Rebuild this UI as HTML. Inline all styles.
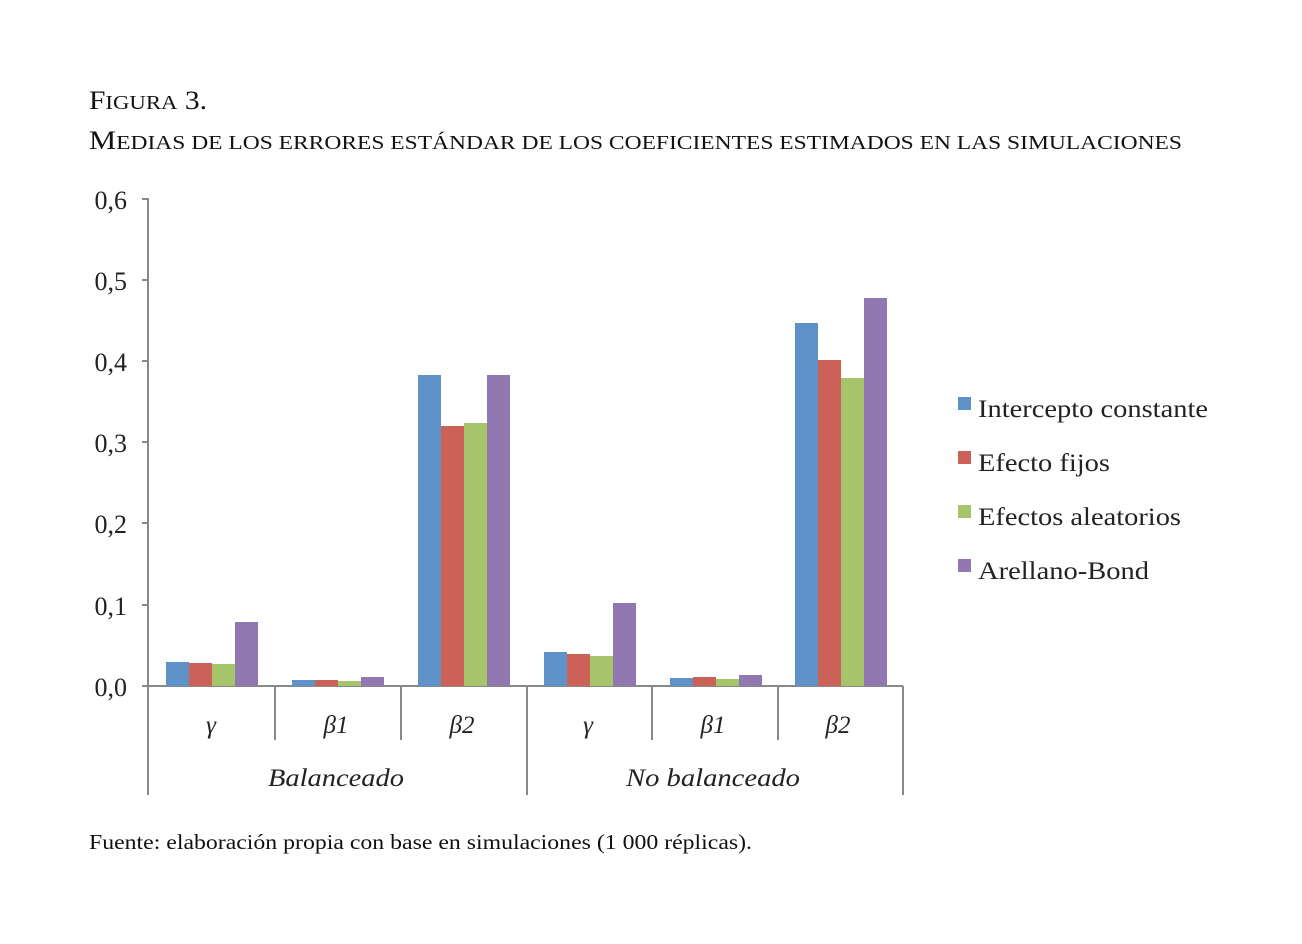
<!DOCTYPE html>
<html><head><meta charset="utf-8"><style>
body{margin:0;background:#fff;}
svg{display:block;}
</style></head><body>
<svg width="1302" height="944" xmlns="http://www.w3.org/2000/svg" font-family="'Liberation Serif', serif">
<rect width="1302" height="944" fill="#fff"/>
<text x="89" y="109" font-size="26" fill="#111" textLength="118" lengthAdjust="spacingAndGlyphs">F<tspan font-size="20">IGURA</tspan> 3.</text>
<text x="89" y="149" font-size="26" fill="#111" textLength="1093" lengthAdjust="spacingAndGlyphs">M<tspan font-size="20">EDIAS DE LOS ERRORES ESTÁNDAR DE LOS COEFICIENTES ESTIMADOS EN LAS SIMULACIONES</tspan></text>
<g font-size="26" fill="#222" text-anchor="end">
<text x="127" y="209">0,6</text>
<text x="127" y="290">0,5</text>
<text x="127" y="371">0,4</text>
<text x="127" y="452">0,3</text>
<text x="127" y="533">0,2</text>
<text x="127" y="615">0,1</text>
<text x="127" y="696">0,0</text>
</g>
<g stroke="#888" stroke-width="2" fill="none">
<line x1="148" y1="198" x2="148" y2="795"/>
<line x1="142" y1="199" x2="148" y2="199"/>
<line x1="142" y1="280" x2="148" y2="280"/>
<line x1="142" y1="361" x2="148" y2="361"/>
<line x1="142" y1="442" x2="148" y2="442"/>
<line x1="142" y1="523" x2="148" y2="523"/>
<line x1="142" y1="605" x2="148" y2="605"/>
<line x1="142" y1="686" x2="903" y2="686"/>
<line x1="275" y1="686" x2="275" y2="740"/>
<line x1="401" y1="686" x2="401" y2="740"/>
<line x1="527" y1="686" x2="527" y2="795"/>
<line x1="652" y1="686" x2="652" y2="740"/>
<line x1="778" y1="686" x2="778" y2="740"/>
<line x1="903" y1="686" x2="903" y2="795"/>
</g>
<g>
<rect x="166" y="662" width="23" height="24" fill="#5f92c9"/>
<rect x="189" y="663" width="23" height="23" fill="#cc6158"/>
<rect x="212" y="664" width="23" height="22" fill="#a6c46a"/>
<rect x="235" y="622" width="23" height="64" fill="#9178b0"/>
<rect x="292" y="680" width="23" height="6" fill="#5f92c9"/>
<rect x="315" y="680" width="23" height="6" fill="#cc6158"/>
<rect x="338" y="681" width="23" height="5" fill="#a6c46a"/>
<rect x="361" y="677" width="23" height="9" fill="#9178b0"/>
<rect x="418" y="375" width="23" height="311" fill="#5f92c9"/>
<rect x="441" y="426" width="23" height="260" fill="#cc6158"/>
<rect x="464" y="423" width="23" height="263" fill="#a6c46a"/>
<rect x="487" y="375" width="23" height="311" fill="#9178b0"/>
<rect x="544" y="652" width="23" height="34" fill="#5f92c9"/>
<rect x="567" y="654" width="23" height="32" fill="#cc6158"/>
<rect x="590" y="656" width="23" height="30" fill="#a6c46a"/>
<rect x="613" y="603" width="23" height="83" fill="#9178b0"/>
<rect x="670" y="678" width="23" height="8" fill="#5f92c9"/>
<rect x="693" y="677" width="23" height="9" fill="#cc6158"/>
<rect x="716" y="679" width="23" height="7" fill="#a6c46a"/>
<rect x="739" y="675" width="23" height="11" fill="#9178b0"/>
<rect x="795" y="323" width="23" height="363" fill="#5f92c9"/>
<rect x="818" y="360" width="23" height="326" fill="#cc6158"/>
<rect x="841" y="378" width="23" height="308" fill="#a6c46a"/>
<rect x="864" y="298" width="23" height="388" fill="#9178b0"/>
</g>
<g font-size="25" font-style="italic" fill="#222" text-anchor="middle">
<text x="211" y="733">γ</text>
<text x="336" y="733">β1</text>
<text x="462" y="733">β2</text>
<text x="588" y="733">γ</text>
<text x="713" y="733">β1</text>
<text x="838" y="733">β2</text>
<text x="336" y="786" textLength="136" lengthAdjust="spacingAndGlyphs">Balanceado</text>
<text x="713" y="786" textLength="174" lengthAdjust="spacingAndGlyphs">No balanceado</text>
</g>
<rect x="958" y="397" width="13" height="13" fill="#5f92c9"/>
<rect x="958" y="451" width="13" height="13" fill="#cc6158"/>
<rect x="958" y="505" width="13" height="13" fill="#a6c46a"/>
<rect x="958" y="559" width="13" height="13" fill="#9178b0"/>
<g font-size="25" fill="#222">
<text x="978" y="417" textLength="230" lengthAdjust="spacingAndGlyphs">Intercepto constante</text>
<text x="978" y="471" textLength="132" lengthAdjust="spacingAndGlyphs">Efecto fijos</text>
<text x="978" y="525" textLength="203" lengthAdjust="spacingAndGlyphs">Efectos aleatorios</text>
<text x="978" y="579" textLength="171" lengthAdjust="spacingAndGlyphs">Arellano-Bond</text>
</g>
<text x="89" y="849" font-size="21" fill="#111" textLength="663" lengthAdjust="spacingAndGlyphs">Fuente: elaboración propia con base en simulaciones (1 000 réplicas).</text>
</svg>
</body></html>
